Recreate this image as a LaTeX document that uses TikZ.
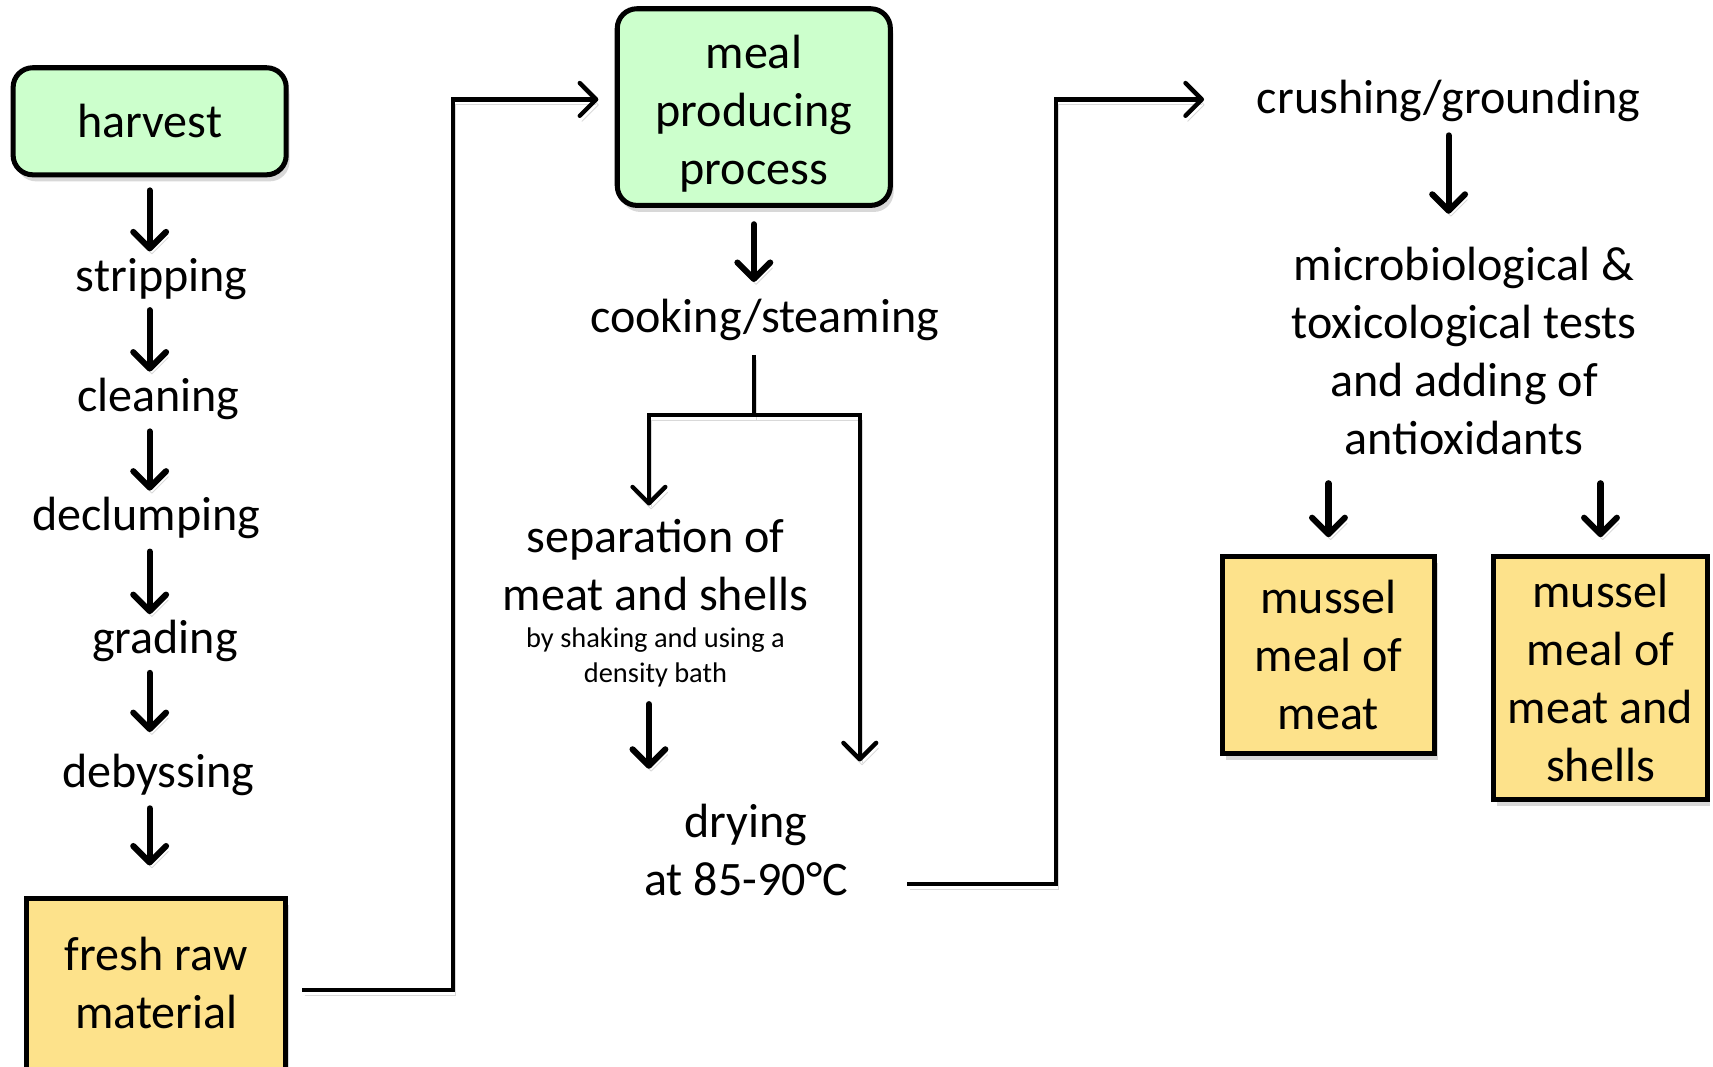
\documentclass[tikz,border=0pt]{standalone}
\usepackage{fontspec}
\setmainfont{Carlito}
\usetikzlibrary{arrows.meta, shadows}
\definecolor{startgreen}{HTML}{CCFFCC}
\definecolor{mealyellow}{HTML}{FDE28B}

\begin{document}
\begin{tikzpicture}[x=0.5pt, y=-0.5pt,
  every node/.style={font=\fontsize{22}{26.5}\selectfont, inner sep=0pt},
  boxshadow/.style={drop shadow={shadow xshift=1.5pt, shadow yshift=-3pt, fill=black!30}},
  greenbox/.style={draw, line width=2.3pt, fill=startgreen, rounded corners=9pt, align=center, boxshadow},
  yellowbox/.style={draw, line width=2.3pt, fill=mealyellow, align=center, boxshadow},
  stage/.style={text height=18pt, text depth=3.5pt},
  small/.style={font=\fontsize{13}{16}\selectfont, align=center},
  lineshadow/.style={preaction={draw=black!15, transform canvas={xshift=1pt, yshift=-2.5pt}}},
  down/.style={line width=2.8pt, line cap=round, -{Straight Barb[length=7.5pt, width=15pt, round]}, lineshadow},
  link/.style={line width=2pt, lineshadow},
  tip/.style={-{Straight Barb[length=7.5pt, width=15pt, round]}}]
\useasboundingbox (0,0) rectangle (1568,976);

% left column
\node[greenbox, minimum width=125pt, minimum height=49pt] (harvest) at (137,111) {harvest};
\node[stage] (strip) at (148,252) {stripping};
\node[stage] (clean) at (145,362) {cleaning};
\node[stage] (declump) at (134,471) {declumping};
\node[stage] (grade) at (151,584) {grading};
\node[stage] (debyss) at (145,706) {debyssing};
\node[yellowbox, minimum width=118.5pt, minimum height=83.5pt] (raw) at (143,906) {fresh raw\\material\rule[-6pt]{0pt}{6pt}};

\draw[down, shorten <=6pt] (harvest) -- (harvest |- strip.north);
\draw[down, shorten <=5pt] (strip.south -| harvest) -- (harvest |- clean.north);
\draw[down, shorten <=5.5pt] (clean.south -| harvest) -- (harvest |- declump.north);
\draw[down, shorten <=6pt] (declump.south -| harvest) -- (harvest |- grade.north);
\draw[down, shorten <=5pt, shorten >=7pt] (grade.south -| harvest) -- (harvest |- debyss.north);
\draw[down, shorten <=6pt, shorten >=14pt] (debyss.south -| harvest) -- (harvest |- raw.north);

% middle column
\node[greenbox, minimum width=125pt, minimum height=90pt] (meal) at (690,98) {\rule{0pt}{21pt}meal\\producing\\process};
\node[stage] (cook) at (700,290) {cooking/steaming};
\coordinate (split) at (690,380);
\node[align=center] (sep) at (600,517) {separation of\\meat and shells};
\node[small] (sephow) at (600,602) {by shaking and using a\\density bath};
\node[align=center] (dry) at (683,778) {drying\\at 85-90°C};
\coordinate (dryright) at (787,697);

\draw[link, tip] ([xshift=6.5pt]raw.east) -- ++(69pt,0) |- ([shift={(-7.5pt,3.5pt)}]meal.west);
\draw[down, shorten <=7.5pt, shorten >=5pt] (meal) -- (meal |- cook.north);
\draw[link, shorten <=6.5pt] (meal |- cook.south) -- (split);
\draw[link, tip, shorten >=6pt] (split) -| ([xshift=-3pt]sep.north);
\draw[link, tip] (split) -| (dryright);
\draw[down, shorten <=7.5pt, shorten >=16pt] ([xshift=-3pt]sephow.south) -- ([xshift=-3pt]sephow.south |- dry.north);

% right column
\node[stage] (crush) at (1326,89) {crushing/grounding};
\node[align=center] (tests) at (1340,321) {microbiological \&\\toxicological tests\\and adding of\\antioxidants};
\node[yellowbox, minimum width=97pt, minimum height=90.5pt] (meat) at (1216,599.5) {mussel\\meal of\\meat};
\node[yellowbox, minimum width=97.5pt, minimum height=111.5pt] (shells) at (1465,620.5) {mussel\\meal of\\meat and\\shells};

\draw[link, tip] ([shift={(27pt,-15.5pt)}]dry.east) -- ++(68pt,0) |- ([shift={(-24pt,-1pt)}]crush.west);
\draw[down, shorten <=6.5pt, shorten >=15pt] (crush) -- (crush |- tests.north);
\draw[down, shorten <=13pt, shorten >=7.5pt] (tests.south -| meat.north) -- (meat.north);
\draw[down, shorten <=13pt, shorten >=7.5pt] (tests.south -| shells.north) -- (shells.north);
\end{tikzpicture}
\end{document}
